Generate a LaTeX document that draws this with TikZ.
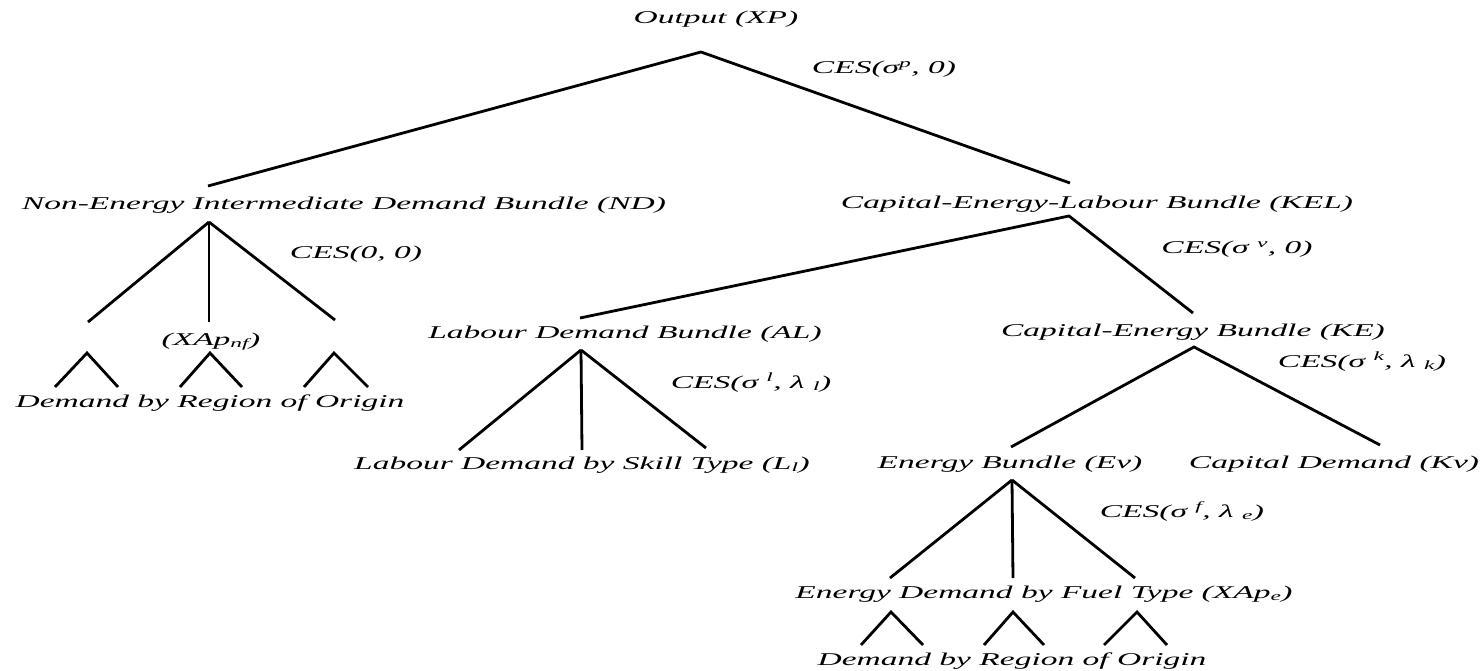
\documentclass[tikz,border=0pt]{standalone}
\usepackage{fontspec}
\setmainfont{Liberation Serif}[FakeStretch=1.86]
\begin{document}
\begin{tikzpicture}[x=1pt,y=-1pt,
  lbl/.style={font=\itshape\fontsize{18}{20}\selectfont, inner sep=0pt, anchor=base},
  br/.style={line width=2.8pt, line cap=butt, line join=miter}]
\useasboundingbox (0,0) rectangle (1484,671);
% coordinates of branch points
\coordinate (a0) at (701,52); \coordinate (a0L) at (208,186); \coordinate (a0R) at (1070,183);
\coordinate (nd0) at (209,222); \coordinate (nd1) at (88,322); \coordinate (nd2) at (209,322); \coordinate (nd3) at (335,320);
\coordinate (w1a) at (55,387); \coordinate (w1b) at (87,353); \coordinate (w1c) at (118,387);
\coordinate (w2a) at (180,387); \coordinate (w2b) at (210,353); \coordinate (w2c) at (242,387);
\coordinate (w3a) at (304,387); \coordinate (w3b) at (334,353); \coordinate (w3c) at (368,387);
\coordinate (k0) at (1069,216); \coordinate (kL) at (580,318); \coordinate (kR) at (1193,313);
\coordinate (al0) at (581,350); \coordinate (al1) at (459,450); \coordinate (al2) at (582,450); \coordinate (al3) at (706,448);
\coordinate (ke0) at (1194,347); \coordinate (keL) at (1011,447); \coordinate (keR) at (1380,445);
\coordinate (ev0) at (1012,480); \coordinate (ev1) at (890,578); \coordinate (ev2) at (1013,578); \coordinate (ev3) at (1135,578);
\coordinate (v1a) at (861,645); \coordinate (v1b) at (891,612); \coordinate (v1c) at (923,645);
\coordinate (v2a) at (984,645); \coordinate (v2b) at (1013,612); \coordinate (v2c) at (1044,645);
\coordinate (v3a) at (1104,645); \coordinate (v3b) at (1137,612); \coordinate (v3c) at (1167,645);
% labels
\node[lbl] (xp) at (716,24) {Output (XP)};
\node[lbl] (cesp) at (884,74) {CES(σ\textsuperscript{p}, 0)};
\node[lbl] (nd) at (344,210) {Non-Energy Intermediate Demand Bundle (ND)};
\node[lbl] (kel) at (1097,209) {Capital-Energy-Labour Bundle (KEL)};
\node[lbl] (ces00) at (356,259) {CES(0, 0)};
\node[lbl] (cesv) at (1237,254) {CES(σ \textsuperscript{v}, 0)};
\node[lbl] (xapnf) at (211,345) {(XAp\textsubscript{nf})};
\node[lbl] (al) at (625,338) {Labour Demand Bundle (AL)};
\node[lbl] (ke) at (1193,336) {Capital-Energy Bundle (KE)};
\node[lbl] (cesl) at (751,388) {CES(σ \textsuperscript{l}, λ \textsubscript{l})};
\node[lbl] (cesk) at (1362,367) {CES(σ \textsuperscript{k}, λ \textsubscript{k})};
\node[lbl] (rog1) at (210,407) {Demand by Region of Origin};
\node[lbl] (ll) at (582,469) {Labour Demand by Skill Type (L\textsubscript{l})};
\node[lbl] (ev) at (1010,468) {Energy Bundle (Ev)};
\node[lbl] (kv) at (1334,468) {Capital Demand (Kv)};
\node[lbl] (cesf) at (1182,517) {CES(σ \textsuperscript{f}, λ \textsubscript{e})};
\node[lbl] (xape) at (1044,598) {Energy Demand by Fuel Type (XAp\textsubscript{e})};
\node[lbl] (rog2) at (1012,665) {Demand by Region of Origin};
% branches
\draw[br] (a0L) -- (a0) -- (a0R);
\draw[br] (nd0) -- (nd1); \draw[br] (nd0) -- (nd2); \draw[br] (nd0) -- (nd3);
\draw[br] (w1a) -- (w1b) -- (w1c);
\draw[br] (w2a) -- (w2b) -- (w2c);
\draw[br] (w3a) -- (w3b) -- (w3c);
\draw[br] (kL) -- (k0) -- (kR);
\draw[br] (al0) -- (al1); \draw[br] (al0) -- (al2); \draw[br] (al0) -- (al3);
\draw[br] (keL) -- (ke0) -- (keR);
\draw[br] (ev0) -- (ev1); \draw[br] (ev0) -- (ev2); \draw[br] (ev0) -- (ev3);
\draw[br] (v1a) -- (v1b) -- (v1c);
\draw[br] (v2a) -- (v2b) -- (v2c);
\draw[br] (v3a) -- (v3b) -- (v3c);
\end{tikzpicture}
\end{document}
